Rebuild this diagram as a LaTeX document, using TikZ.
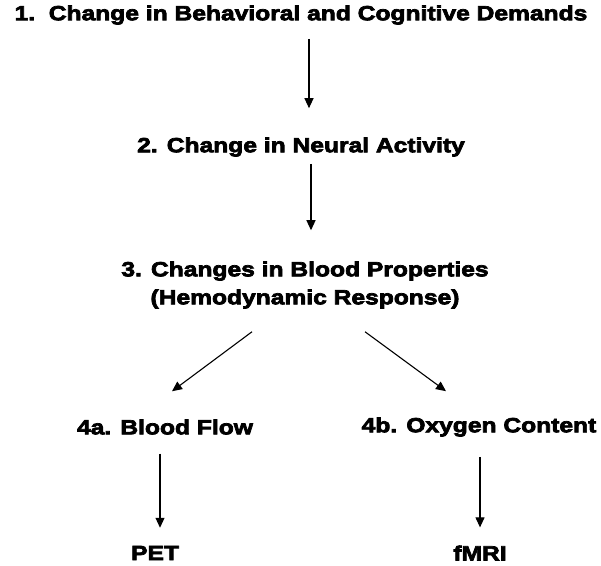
\documentclass[tikz,border=0pt]{standalone}
\usepackage{fontspec}
\newfontfamily\heavyfont{Liberation Sans Bold}[FakeBold=3.5, FakeStretch=1.2]
\usetikzlibrary{arrows.meta, positioning, calc}

\begin{document}
\begin{tikzpicture}[x=1pt, y=1pt, >={Triangle[length=10pt, width=9pt]}, font=\heavyfont\fontsize{20.5}{28}\selectfont]
  \tikzstyle{stagenode}=[inner sep=0pt, align=center]
  \tikzstyle{flowarrow}=[->, line width=1.1pt]
  \useasboundingbox (0,0) rectangle (601,565);

  \node[stagenode] (demand) at (301,550) {1.\ \ Change in Behavioral and Cognitive Demands};
  \node[stagenode] (neural) at (301,418) {2. Change in Neural Activity};
  \node[stagenode] (blood) at (305,280) {3. Changes in Blood Properties\\(Hemodynamic Response)};
  \node[stagenode] (flow) at (165,138) {4a. Blood Flow};
  \node[stagenode] (oxygen) at (479,138) {4b. Oxygen Content};
  \node[stagenode] (pet) at (155,12) {PET};
  \node[stagenode] (fmri) at (480,12) {fMRI};

  \draw[flowarrow] ($(demand.south)+(8,-14)$) -- ($(neural.north)+(8,29)$);
  \draw[flowarrow] ($(neural.south)+(10,-7)$) -- ($(blood.north)+(6,31)$);
  \draw[flowarrow] ($(blood.south)+(-53,-23)$) -- ($(flow.north)+(7,28)$);
  \draw[flowarrow] ($(blood.south)+(60,-23)$) -- ($(oxygen.north)+(-33,26)$);
  \draw[flowarrow] ($(flow.south)+(-5,-19)$) -- ($(pet.north)+(5,18)$);
  \draw[flowarrow] ($(oxygen.south)+(1,-20)$) -- ($(fmri.north)+(0,18)$);
\end{tikzpicture}
\end{document}
